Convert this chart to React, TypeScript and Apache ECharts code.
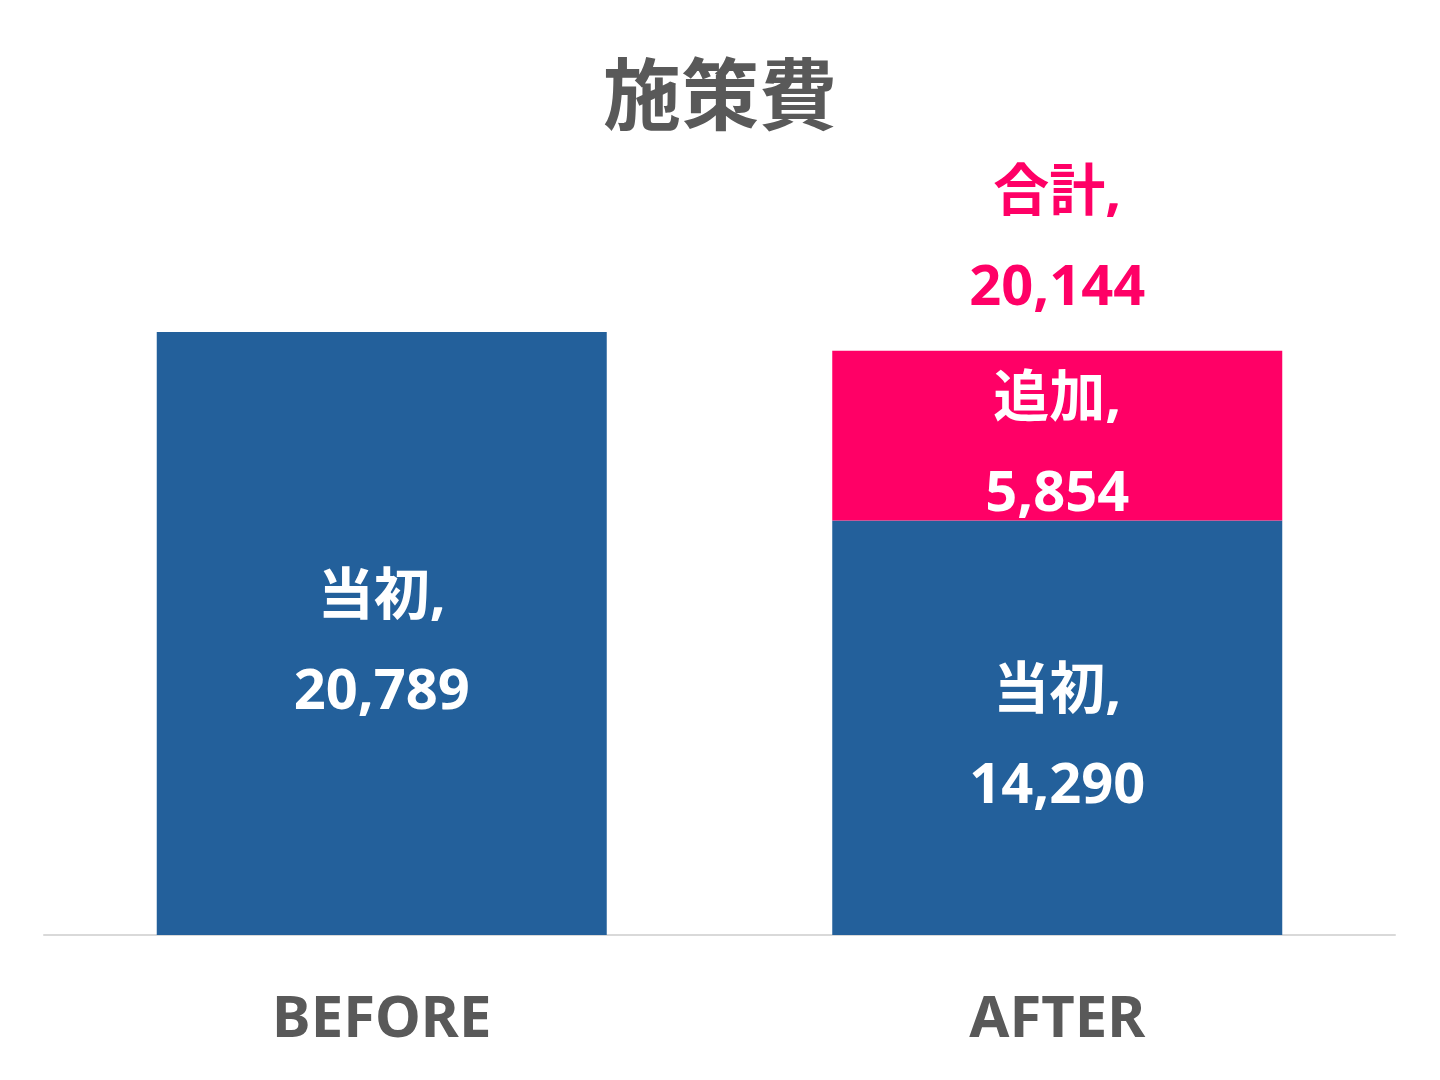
import * as echarts from 'echarts';
import { useEffect, useRef } from 'react';

const categories = ['BEFORE', 'AFTER'];
const initialValues = [20789, 14290];
const addedValues: (number | string)[] = ['-', 5854];
const totalValues: (number | string)[] = ['-', 20144];

const FONT = '"Noto Sans", "Noto Sans CJK JP", sans-serif';
const BLUE = '#23609B';
const PINK = '#FF0066';
const GRAY = '#595959';

const fmt = (p: any) =>
  `${p.seriesName},\n${Number(p.value).toLocaleString('en-US')}`;

export default function App() {
  const chartRef = useRef<HTMLDivElement>(null);

  useEffect(() => {
    document.body.style.margin = '0';
    if (!chartRef.current) return;
    const chart = echarts.init(chartRef.current, undefined, { renderer: 'svg' });

    const barLabel = {
      show: true,
      position: 'inside',
      formatter: fmt,
      color: '#fff',
      fontFamily: FONT,
      fontWeight: 'bold',
      fontSize: 56,
      lineHeight: 95,
      offset: [0, 6],
    };

    chart.setOption({
      animation: false,
      title: {
        text: '施策費',
        left: 'center',
        top: 50,
        textStyle: {
          color: GRAY,
          fontFamily: FONT,
          fontWeight: 'bold',
          fontSize: 78,
        },
      },
      grid: { left: 44, right: 45, top: 210, bottom: 145 },
      xAxis: {
        type: 'category',
        data: categories,
        axisLine: { lineStyle: { color: '#d9d9d9', width: 2 } },
        axisTick: { show: false },
        axisLabel: {
          margin: 50,
          color: GRAY,
          fontFamily: FONT,
          fontWeight: 'bold',
          fontSize: 58,
        },
      },
      yAxis: {
        type: 'value',
        min: 0,
        max: 25000,
        show: false,
      },
      series: [
        {
          name: '当初',
          type: 'bar',
          stack: 'total',
          barWidth: 450,
          data: initialValues,
          itemStyle: { color: BLUE },
          label: barLabel,
        },
        {
          name: '追加',
          type: 'bar',
          stack: 'total',
          barWidth: 450,
          data: addedValues,
          itemStyle: { color: PINK },
          label: barLabel,
        },
        {
          name: '合計',
          type: 'scatter',
          symbolSize: 0,
          data: totalValues,
          itemStyle: { color: PINK, opacity: 1 },
          label: {
            show: true,
            position: 'top',
            distance: 20,
            formatter: fmt,
            color: PINK,
            opacity: 1,
            fontFamily: FONT,
            fontWeight: 'bold',
            fontSize: 56,
            lineHeight: 95,
          },
        },
      ],
    });

    return () => chart.dispose();
  }, []);

  return <div ref={chartRef} style={{ width: 1440, height: 1080 }} />;
}
